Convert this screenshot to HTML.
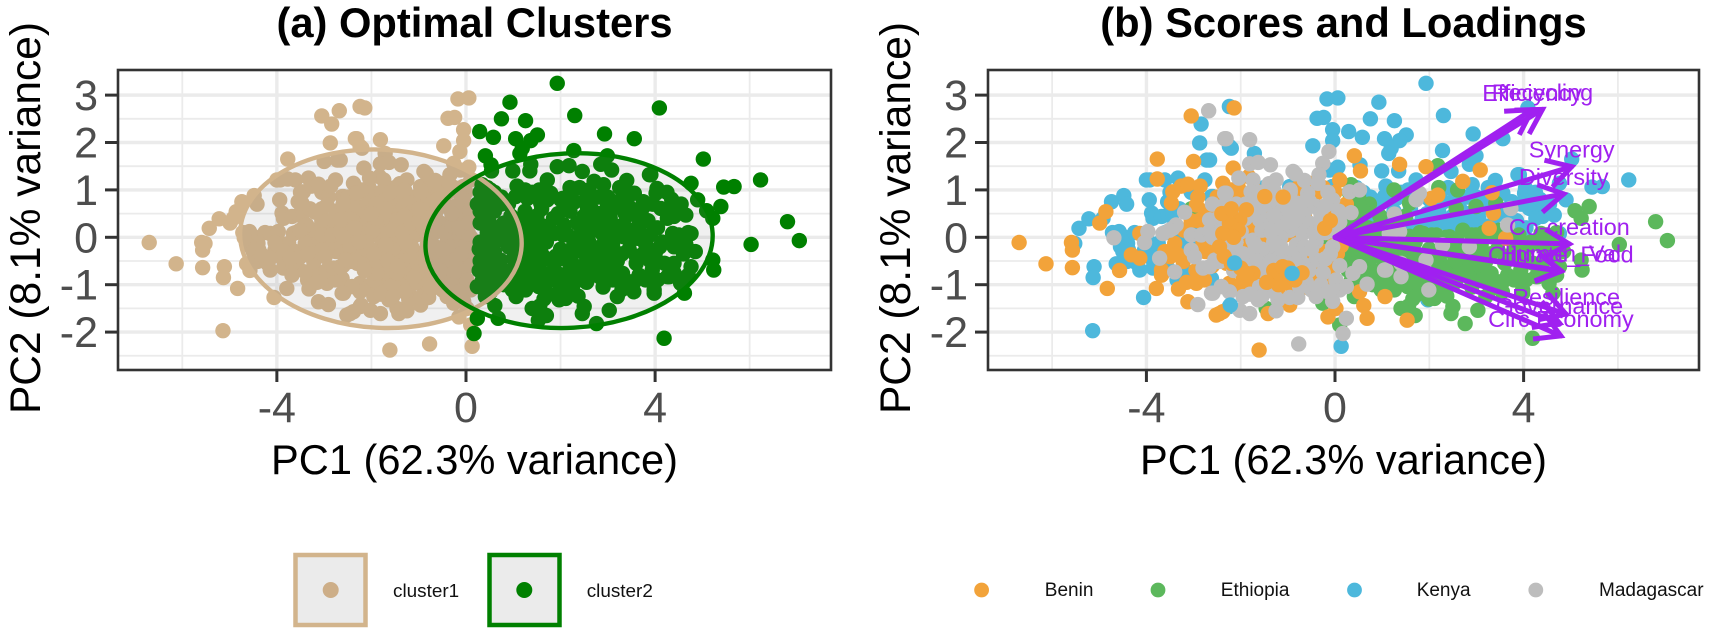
<!DOCTYPE html>
<html lang="en">
<head>
<meta charset="utf-8">
<title>PCA clusters, scores and loadings</title>
<style>
html,body{margin:0;padding:0;background:#fff;}
body{width:1713px;height:634px;overflow:hidden;}
svg{display:block;font-family:"Liberation Sans",Arial,sans-serif;}
</style>
</head>
<body>
<svg id="figure" xmlns="http://www.w3.org/2000/svg" width="1713" height="634" viewBox="0 0 1713 634">
  <rect x="0" y="0" width="1713" height="634" fill="#ffffff"/>
  <g id="panel-a"></g>
  <g id="panel-b"></g>

  <text x="474.5" y="37" text-anchor="middle" font-size="41.7" font-weight="700" fill="#000">(a) Optimal Clusters</text>
  <text x="1343.5" y="37" text-anchor="middle" font-size="41.7" font-weight="700" fill="#000">(b) Scores and Loadings</text>

  <text x="474.5" y="474" text-anchor="middle" font-size="41.6" fill="#000">PC1 (62.3% variance)</text>
  <text x="1343.5" y="474" text-anchor="middle" font-size="41.6" fill="#000">PC1 (62.3% variance)</text>
  <text transform="translate(40,218) rotate(-90)" text-anchor="middle" font-size="42.5" fill="#000">PC2 (8.1% variance)</text>
  <text transform="translate(910,218) rotate(-90)" text-anchor="middle" font-size="42.5" fill="#000">PC2 (8.1% variance)</text>

  <g>
    <g>
      <rect x="295.5" y="555" width="70" height="70" fill="#ebebeb" stroke="#D2B48C" stroke-width="4.5"/>
      <circle cx="330.7" cy="590" r="8" fill="#CDAE88"/>
      <text x="393" y="597" font-size="18.9" fill="#111">cluster1</text>
    </g>
    <g>
      <rect x="489.5" y="555" width="70" height="70" fill="#ebebeb" stroke="#008000" stroke-width="4.5"/>
      <circle cx="524.3" cy="590" r="8" fill="#008000"/>
      <text x="586.7" y="597" font-size="18.9" fill="#111">cluster2</text>
    </g>
  </g>

  <g>
    <g>
      <circle cx="981.6" cy="590" r="7.4" fill="#F2A33A"/>
      <text x="1044.8" y="596" font-size="19" fill="#111">Benin</text>
    </g>
    <g>
      <circle cx="1158" cy="590" r="7.4" fill="#5CB85C"/>
      <text x="1220.8" y="596" font-size="19" fill="#111">Ethiopia</text>
    </g>
    <g>
      <circle cx="1354.5" cy="590" r="7.4" fill="#4DB8DC"/>
      <text x="1416.7" y="596" font-size="19" fill="#111">Kenya</text>
    </g>
    <g>
      <circle cx="1535.8" cy="590" r="7.4" fill="#BDBDBD"/>
      <text x="1599" y="596" font-size="19" fill="#111">Madagascar</text>
    </g>
  </g>
</svg>

<script>
// ---------- chart data (PC1, PC2 scores) ----------
const xMajorTicks = [-4, 0, 4];
const xMinorTicks = [-6, -2, 2, 6];
const yMajorTicks = [-2, -1, 0, 1, 2, 3];
const yMinorTicks = [-2.5, -1.5, -0.5, 0.5, 1.5, 2.5];
const xTickLabels = ['-4', '0', '4'];
const yTickLabels = ['-2', '-1', '0', '1', '2', '3'];
const xDomain = [-7.36, 7.72];
const yDomain = [-2.80, 3.53];

const ethiopiaScores = [
[-3.05,.6],[-2.48,.68],[-2.69,-.2],[5.39,.65],[5.09,.56],[5.22,.4],[6.8,.33],[7.05,-.07],[6.03,-.15],[5.22,-.48],[5.24,-.69],[4.19,-2.13],[3.03,-1.54],[4.62,-1.18],[3.98,-1.11],[4.26,-.83],[4.76,-.62],[4.54,-.97],[3.66,-.8],[3.49,-.94],[3.31,-.76],
[.34,1.11],[.73,.7],[2.18,1.51],[-.12,-.06],[-.12,-.62],[.41,-.34],[.73,-.48],[.77,-.69],[.98,-1.11],[1.26,-1.11],[1.54,-1.04],[1.65,-.76],[1.4,-1.5],[1.56,-1.45],[1.7,-1.65],[2.11,-1.29],[2.37,-1.24],[2.5,-1.46],[2.46,-1.61],[2.76,-1.82],[.1,-1.85],[-.26,-1.39],[-1.46,-1.5],[-.4,-1.18],[.41,-1.25],
[2.25,-.55],[2.5,-.69],[2.71,-.69],[3.03,-.76],[3.27,-.76],[3.1,-.9],[3.38,-.97],[3.94,-.69],[4.3,-.83],[2.57,.61],[2.99,.65],[2.71,.15],[1.58,.72],[1.58,.02],[1.87,.08],[2.15,.05],[2.43,.01],[2.99,.05],[3.2,.09],[3.48,.15],[3.34,.01],[4.37,.08],
[3.98,-1.18],[3.41,.72],[1.3,-.76],[.97,-.69],[1.93,-.76],[2.14,-.48],[.93,-.83],[1.08,-.62],
[.5,-.1],[.6,-.3],[.9,-.2],[1.0,-.45],[1.15,-.6],[1.3,-.35],[1.5,-.2],[1.7,-.45],[1.85,-.7],[2.0,-.25],[2.1,-.85],[2.3,-.95],[2.45,-.3],[2.6,-.1],[2.8,-.45],[3.0,-.3],[3.2,-.5],[3.45,-.25],[3.6,-.55],[3.8,-.15],[4.0,-.35],[4.2,-.55],[4.4,-.2],[1.2,-.9],[1.75,-1.2],[.6,-.65],[.85,-.85],[1.05,-.15],[.45,.1],[.7,.2],[.95,.05],[1.25,.1],[1.55,.0],[1.8,.1],[2.05,.05],[2.35,.0],[2.9,.05],[3.15,.1],[3.45,.0],[3.9,.05],[4.15,-.1],[4.5,.05],[1.45,-.95],[.3,-.5],[.35,-.9],[.4,.5],[.6,.55],[.3,.3],[.95,.45],[1.5,.45],
[.3,-.1],[.38,-1.05],[.55,-1.0],[.3,.75],[.5,.85],[.32,-.72],[.5,.3],[2.55,-.95],[2.9,-1.05],[3.2,-1.25],[3.55,-1.15],[4.05,-.9],[4.85,-.3],[4.6,-.35],[4.7,.1],
[1.1,-.3],[1.25,-.15],[1.4,-.1],[1.6,-.35],[1.9,-.4],[2.25,-.3],[2.3,-.1],[2.55,-.5],[2.7,-.3],[2.9,-.25],[3.1,-.15],[3.3,-.35],[3.6,-.4],[3.75,-.35],[3.9,-.5],[4.1,-.2],[3.8,-.9],[3.55,-.95],[3.0,-.6],[2.85,-.85],[2.6,-.85],[2.35,-.75],[2.2,-.65],[1.95,-.95],[1.7,-.95],[1.5,-.6],[1.35,-.55],[1.0,-1.0],[.8,-1.0],[.7,-.95],[.45,-.55],[.28,-.25],[.28,-.7],[.5,-.75],[.7,-.05],[.9,.2],[1.1,.2],[1.35,.3],[1.7,-.1],[1.2,.25],[.3,.55],[.5,.7],[.3,.95],[2.0,-1.3],[1.65,-1.3],[2.25,-1.1],[3.3,-1.1],[4.4,-.55],[4.4,-.75],[4.7,-.8],[4.65,-.15],
[2.2,1.05],[2.6,1.0],[1.25,1.0]
];

const kenyaScores = [
[-5.43,.19],[-5.22,.39],[-5.52,-.13],[-5.11,-.62],[-5.13,-.85],[-5.14,-1.97],[-4.74,.75],[-4.48,.88],[-4.42,.70],[-4.92,.4],[-4.72,.1],[-4.58,.12],[-4.5,.02],[-4.47,-.09],[-4.4,-.13],[-4.55,-.2],[-4.38,-.27],[-4.5,-.3],[-4.64,-.56],[-4.41,-.51],[-4.14,-.69],[-4.06,-1.27],[-4.04,-.27],[-3.93,1.21],[-4.0,1.21],[-3.94,.79],[-3.89,.51],[-3.86,.40],[-3.68,.44],[-3.54,.47],[-3.44,.51],[-3.75,-.13],[-3.86,-.48],[-3.86,-.65],[-3.61,1.21],[-3.33,1.25],[-2.87,1.99],[-2.84,2.39],[-2.72,1.63],[-2.76,1.21],[-2.62,.86],[-3.12,-.73],[-3.16,-.16],[-2.71,-.87],[-2.24,-1.46],[-2.24,2.76],[-2.24,1.92],
[1.93,3.25],[-.17,2.92],[.06,2.94],[.93,2.85],[2.30,2.57],[-.38,2.51],[-.24,2.53],[.75,2.5],[1.26,2.46],[-.05,2.27],[.29,2.23],[-.05,2.04],[.58,2.11],[1.05,2.08],[1.51,2.16],[1.37,2.04],[2.93,2.18],[3.56,2.08],[-.47,1.93],[-2.2,1.88],[-1.71,1.77],[1.19,1.88],[1.14,1.77],[2.28,1.83],[2.99,1.72],[2.85,1.54],[.53,1.53],[.06,1.48],[-.12,1.42],[.99,1.4],[1.35,1.4],[2.46,1.39],[2.91,1.11],[-.06,1.07],[1.72,1.21],[1.08,1.08],[1.05,.86],[1.3,.82],[3.56,.93],[3.88,1.32],[4.02,.93],[4.12,.61],[4.4,.44],[2.53,.79],[2.57,.26],[2.43,.23],[2.71,.3],[2.64,.15],[2.07,.26],[3.2,.75],[3.63,.44],[3.7,.08],[4.09,2.73],[.52,.68],[-2.09,.94],[-.96,1.07],[.62,-.87],[1.97,-1.32],[.13,-2.3],[-2.59,.86],[-2.66,1.63],[-2.62,-.87],
[5.02,1.65],[3.91,1.32],[6.23,1.21],[5.67,1.07],[5.45,1.06],[4.9,.79],[4.04,1.03],[3.2,.72],[4.33,.51],[4.65,.47],[4.26,.40],[4.76,.08],[4.76,1.14],
[1.6,.6],[1.85,.4],[2.2,.55],[2.35,.3],[2.8,.5],[3.05,.4],[3.3,.25],[1.25,.55],[.8,.3],[2.95,.25],[1.45,.3],[3.85,.35],[4.05,.2],
[-3.3,.1],[-3.25,-.42],[-4.25,.1],[-3.95,-.1],[-3.5,.95],[-3.05,.95],[-2.85,.2],[-3.6,.1],[-2.9,-.12],[-2.3,.3],[-1.95,.85],[-1.5,1.05],
[1.1,.35],[1.3,.3],[1.6,.25],[1.75,.2],[1.95,.5],[2.1,.65],[2.3,.75],[2.5,.45],[2.65,.6],[2.8,.85],[3.0,.85],[3.1,.6],[3.4,.45],[3.5,.6],[3.75,.75],[3.95,.7],[2.0,.8],[1.4,.95],[1.55,1.0],[.75,.85],[.9,.7],[.6,.95],[.45,1.05],[2.4,1.05],[3.25,1.05],[3.4,1.2],[4.25,.95],[4.35,.8],[4.55,.7],
[-3.55,.75],[-3.85,-.3],[-3.3,.6],[-4.2,-.55],[-3.55,-.65],[-3.35,-.9]
];

const kenyaTopScores = [[-2.13,-.54],[-.91,-.76],[-2.22,-1.43]];

const beninScores = [
[-6.70,-.11],[-6.13,-.56],[-5.59,-.11],[-5.57,-.27],[-5.57,-.64],[-4.99,.30],[-4.86,.54],[-4.83,-1.08],[-4.57,-.70],[-4.32,-.37],[-4.14,-.44],[-4.14,.08],[-3.77,1.65],[-3.77,1.23],[-3.05,2.56],[-3.0,1.60],[-3.79,-1.08],[-3.32,-1.09],[-3.12,-1.36],[-3.68,-.69],[-3.68,-.80],[-3.61,-.30],[-3.5,-.41],[-3.4,-.13],[-3.22,-.51],[-3.47,.72],[-3.44,.96],[-3.26,1.08],[-3.12,1.12],[-2.91,.85],[-2.86,1.08],[-2.94,.68],[-2.94,-.97],[-2.77,-.90],[-2.52,-1.64],[-2.38,-1.57],[-2.38,1.14],[-2.52,.61],
[-2.14,2.73],[.41,1.72],[1.37,1.54],[1.93,1.49],[3.08,1.42],[.54,1.4],[.1,1.21],[-.77,1.06],[-2.16,1.46],[-1.83,1.28],[2.71,1.18],[3.33,.94],[.24,.7],[2.04,.82],[2.18,.89],[3.36,.51],[3.27,.19],[.13,-.18],[.02,-.55],[-.24,-.94],[.52,-1.15],[.61,-1.44],[.68,-1.71],[-.15,-1.68],[.02,-1.5],[1.06,-1.25],[1.53,-1.75],[-1.61,-2.38],[-2.45,-1.61],[-1.42,-1.61],[-.96,-1.43],[-1.21,-1.18],[-.72,-1.08],[-2.24,-.97],
[-1.81,.23],[-1.39,.37],[-1.25,-.2],[-2.24,-.2],[-2.55,-.2],[-.75,-.06],[-1.03,-.48],[-1.35,-.62],[-.54,1.14],[-.4,.93],[-2.5,.85],[-2.05,1.05],[-2.3,-.55],[-2.05,-.45],[-1.6,-.1],[-1.45,.05],[-1.05,.05],[-.6,-.3],[-.2,-.3],[-.65,.45],[-1.0,.45],[-1.65,-1.15],[-1.3,-.95],[-.8,-.7],[-.35,-.65],[0,-.95],[-.15,.7],[-.95,-1.0],[-2.6,-.6],[-2.75,-.3],[-2.7,.25],[3.62,-.02],
[-1.9,.05],[-1.85,-.25],[-1.65,.1],[-1.75,.45],[-1.55,.6],[-1.55,-.85],[-1.7,-.95],[-2.05,-1.05],[-1.85,-1.1],[-.45,-.85],[-.2,-.55],[-.05,-.7],[.05,-.35],[.1,.0],[-.05,.05],[-.25,.45],[-.1,.55],[.0,.95],[-.25,1.05],[-.7,1.0],[-1.35,.95],[-1.7,1.0],[-2.0,.85],[-2.2,1.0],[-2.75,.55],[-2.8,-.1],[-2.9,.35],[-3.05,.35],[-3.2,.15],[-3.35,-.35],[-2.95,-.7],[-3.15,-.95]
];

const beninTopScores = [
[-2.02,.37],[-1.88,.58],[-2.24,.3],[-2.38,.08],[-2.4,.5],[-2.2,.6],[-2.05,.15],[-2.15,.0],[-2.35,-.4],[-2.2,-.55],[-2.0,-.65],[-1.2,-1.0],[-1.05,-.95],[-1.3,-.7],[-1.0,-.65],[-1.18,-.76],[-1.11,-.62],[-.85,-.9],[-.7,-.75],[-1.45,-.95],[-1.74,-.76],[-1.95,-.9],[-1.88,-.76],[-1.49,.86],[-1.1,.85],[-.22,.19],[-.1,.35],[-2.45,-.2]
];

const madagascarScores = [
[-4.69,-.01],[-3.97,.12],[-4.04,-.11],[-3.65,.08],[-3.44,.19],[-3.37,.26],[-3.51,.15],[-3.19,.53],[-3.72,-.44],[-3.4,-.73],[-3.05,.05],[-3.05,-.27],[-2.98,-.41],[-2.84,.05],[-2.66,.12],[-2.8,-.65],[-2.66,-.62],[-2.68,2.67],[-2.34,2.08],[-2.34,.93],[-2.34,.68],[-2.62,-1.18],[-2.91,-1.42],[-2.41,-1.04],[-2.55,.37],[-2.41,.3],[-2.45,-.16],[-2.48,-.51],
[-2.31,2.08],[-1.81,2.06],[-.13,1.81],[-.26,1.56],[-1.81,1.55],[-1.63,1.58],[-1.37,1.53],[-.89,1.39],[-.84,1.34],[-.34,1.32],[-.36,1.14],[-2.04,1.25],[-1.74,1.21],[-1.78,.96],[-1.4,1.13],[-1.25,1.21],[-2.31,.93],[-2.09,.7],[-.58,.93],[-.54,.75],[-.4,.65],[-.05,.79],[-.19,.68],[-.96,.79],[-.86,.54],[-.81,.72],[-1.56,.65],[-1.42,.75],[-1.32,.65],[-1.21,.72],[-1.14,.54],[-1.6,.37],[-1.25,.23],[-1.46,.37],[.31,.96],[.52,1.0],[.34,.52],[.1,.32],[1.72,.79],[1.79,.93],[1.26,.49],[1.37,.12],[1.15,.08],[1.4,-.55],[1.93,-.48],[1.08,-.69],[1.99,-1.11],[2.85,-.2],[2.28,-.16],[3.66,.26],[3.73,.61],
[-1.74,-.06],[-1.99,.12],[-2.09,-.27],[-2.66,.37],[-.96,.15],[-.82,.23],[-.68,.08],[-.54,.3],[-.68,.51],[-.82,-.16],[-1,-.34],[-.4,-.09],[-.4,-.48],[-.75,-.41],[-1.03,-.76],[-1.35,-.3],[-1.49,-.41],[-1.78,-.48],[-1.6,-.62],[-1.46,-.76],[-1.88,-.51],[-1.74,-.34],[-2.45,-.51],[-2.55,-.48],[-.61,-.94],[-.5,-1.11],[.02,-.9],[.1,-1.11],[.24,-1.04],[.52,-.62],[.38,-.76],[1.05,-.69],[1.4,-.83],[.68,-.99],[.24,-1.71],[.17,-2.03],[-.77,-2.25],[-1.21,-1.32],[-.96,-1.27],[-.79,-1.27],[-2.24,-1.15],[-2.41,-1.04],[-2.59,-1.18],[-2.02,-1.54],[-1.81,-1.61],[-1.63,-1.32],[-1.6,-1.04],[-1.46,-1.08],
[-2.1,-.1],[-1.9,.4],[-1.15,.0],[-1.2,-.45],[-.2,.1],[-.05,-.2],[.05,.08],[-.25,-.75],[-.6,-.6],[-1.3,1.0],[-.95,1.0],[-.65,1.2],[-1.7,.8],[-2.6,.7],[-2.15,-.7],[-1.95,-1.25],[-1.25,-1.55],[-.3,-1.0],[.08,.55],
[-1.55,.15],[-1.35,.1],[-1.15,.3],[-1.0,.35],[-.8,.4],[-.6,.15],[-.45,.1],[-.3,.25],[-.15,.2],[-.3,.5],[-.6,.6],[-1.0,.6],[-1.3,.45],[-1.7,.6],[-1.9,.7],[-2.1,.5],[-.85,-.35],[-.65,-.2],[-.5,-.25],[-.2,-.45],[-.1,-.35],[-.55,-.7],[-.85,-.55],[-1.15,-.2],[-1.3,-.1],[-1.55,-.25],[-1.65,-.5],[-1.35,-.5],[-1.95,-.35],[-2.25,-.1],[-2.35,.2],[-2.6,0],[-1.7,-.15],[-1.45,-.6],[-1.1,-.85],[-.75,-1.05],[-1.3,-1.15],[-1.8,-1.2],[-1.55,-1.25],[-.4,-1.25],[-.15,-1.15],[-.05,-1.35],[.1,-.6],[.05,.3],[-.95,.95],[-.6,.8],[-.15,.95],[-1.6,.95],[-2.0,.5]
];

const cluster1Colour = '#D2B48C';
const cluster2Colour = '#008000';
const countryColours = {benin:'#F2A33A', ethiopia:'#5CB85C', kenya:'#4DB8DC', madagascar:'#BDBDBD'};
const clusterSplitPC1 = 0.17;

const ellipseCentrePC1 = [-1.8, 2.18];
const ellipseCentrePC2 = [-0.03, -0.07];
const ellipseSemiMajor = [2.98, 3.04];
const ellipseSemiMinor = [1.88, 1.84];
const ellipseTiltDeg = [3, -3];

const loadingNames = ['Efficiency','Recycling','Synergy','Diversity','Co-creation','Human_Val','Climate_Food','Resilience','Governance','Circ.Economy'];
const loadingPC1 = [4.18, 4.40, 5.02, 4.85, 4.97, 4.79, 4.79, 4.90, 4.76, 4.79];
const loadingPC2 = [2.69, 2.70, 1.49, 0.915, -0.14, -0.70, -0.72, -1.62, -1.81, -2.08];

// ---------- drawing ----------
const NS = 'http://www.w3.org/2000/svg';
const pointRadius = 7.7;
function node(tag, parent, attrs) {
  const el = document.createElementNS(NS, tag);
  for (const k in attrs) el.setAttribute(k, attrs[k]);
  parent.appendChild(el);
  return el;
}
function scale(domain, a, b) {
  return v => a + (v - domain[0]) / (domain[1] - domain[0]) * (b - a);
}

function drawFrame(group, left, right, top, bottom, prefix) {
  const X = scale(xDomain, left, right);
  const Y = scale(yDomain, bottom, top);
  const area = node('rect', group, {x: left, y: top, width: right - left, height: bottom - top, fill: '#ffffff'});
  
  
  xMinorTicks.forEach(v => {
    const el = node('line', group, {x1: X(v), x2: X(v), y1: top, y2: bottom, stroke: '#ebebeb', 'stroke-width': 1.8});
    
    
  });
  yMinorTicks.forEach(v => {
    const el = node('line', group, {x1: left, x2: right, y1: Y(v), y2: Y(v), stroke: '#ebebeb', 'stroke-width': 1.8});
    
    
  });
  xMajorTicks.forEach((v, i) => {
    const grid = node('line', group, {x1: X(v), x2: X(v), y1: top, y2: bottom, stroke: '#ebebeb', 'stroke-width': 3.4});
    
    
    const tick = node('line', group, {x1: X(v), x2: X(v), y1: bottom, y2: bottom + 12, stroke: '#333333', 'stroke-width': 3});
    
    
    const label = node('text', group, {x: X(v), y: bottom + 52, 'text-anchor': 'middle', 'font-size': 43, fill: '#4d4d4d'});
    label.textContent = xTickLabels[i];
    
    
  });
  yMajorTicks.forEach((v, i) => {
    const grid = node('line', group, {x1: left, x2: right, y1: Y(v), y2: Y(v), stroke: '#ebebeb', 'stroke-width': 3.4});
    
    
    const tick = node('line', group, {x1: left - 13, x2: left, y1: Y(v), y2: Y(v), stroke: '#333333', 'stroke-width': 3});
    
    
    const label = node('text', group, {x: left - 20, y: Y(v) + 15, 'text-anchor': 'end', 'font-size': 43, fill: '#4d4d4d'});
    label.textContent = yTickLabels[i];
    
    
  });
  return {X, Y};
}

function drawBorder(group, left, right, top, bottom) {
  const el = node('rect', group, {x: left, y: top, width: right - left, height: bottom - top, fill: 'none', stroke: '#333333', 'stroke-width': 2.6});
  
  
}

// Panel (a): clusters
(function () {
  const g = document.getElementById('panel-a');
  const {X, Y} = drawFrame(g, 118, 831, 70, 370, 'panel-a');
  const all = ethiopiaScores.concat(kenyaScores, kenyaTopScores, beninScores, beninTopScores, madagascarScores);
  all.filter(p => p[0] < clusterSplitPC1).forEach(p => {
    const el = node('circle', g, {cx: X(p[0]), cy: Y(p[1]), r: pointRadius, fill: cluster1Colour});
    
    
  });
  all.filter(p => p[0] >= clusterSplitPC1).forEach(p => {
    const el = node('circle', g, {cx: X(p[0]), cy: Y(p[1]), r: pointRadius, fill: cluster2Colour});
    
    
  });
  const unitX = X(1) - X(0), unitY = Y(0) - Y(1);
  ellipseCentrePC1.forEach((c, i) => {
    const cx = X(c), cy = Y(ellipseCentrePC2[i]);
    const el = node('ellipse', g, {
      cx: cx, cy: cy, rx: ellipseSemiMajor[i] * unitX, ry: ellipseSemiMinor[i] * unitY,
      transform: 'rotate(' + ellipseTiltDeg[i] + ' ' + cx + ' ' + cy + ')',
      fill: '#737373', 'fill-opacity': 0.11,
      stroke: i === 0 ? cluster1Colour : cluster2Colour, 'stroke-width': 4.4
    });
    
    
  });
  drawBorder(g, 118, 831, 70, 370);
})();

// Panel (b): scores and loadings
(function () {
  const g = document.getElementById('panel-b');
  const {X, Y} = drawFrame(g, 988, 1699, 70, 370, 'panel-b');
  const drawPoints = (rows, colour, label) => rows.forEach(p => {
    const el = node('circle', g, {cx: X(p[0]), cy: Y(p[1]), r: pointRadius, fill: colour});
    
    
  });
  drawPoints(kenyaScores, countryColours.kenya, 'kenya-point');
  drawPoints(ethiopiaScores, countryColours.ethiopia, 'ethiopia-point');
  drawPoints(beninScores, countryColours.benin, 'benin-point');
  drawPoints(madagascarScores, countryColours.madagascar, 'madagascar-point');
  drawPoints(beninTopScores, countryColours.benin, 'benin-point');
  drawPoints(kenyaTopScores, countryColours.kenya, 'kenya-point');

  const purple = '#A020F0';
  const headLength = 28;
  loadingNames.forEach((name, i) => {
    const x0 = X(0), y0 = Y(0), x1 = X(loadingPC1[i]), y1 = Y(loadingPC2[i]);
    const shaft = node('line', g, {x1: x0, y1: y0, x2: x1, y2: y1, stroke: purple, 'stroke-width': 5, 'stroke-linecap': 'round'});
    
    
    const angle = Math.atan2(y1 - y0, x1 - x0);
    const a1 = angle + Math.PI - Math.PI / 6, a2 = angle + Math.PI + Math.PI / 6;
    const pts = [
      [x1 + headLength * Math.cos(a1), y1 + headLength * Math.sin(a1)],
      [x1, y1],
      [x1 + headLength * Math.cos(a2), y1 + headLength * Math.sin(a2)]
    ].map(p => p.join(',')).join(' ');
    const head = node('polyline', g, {points: pts, fill: 'none', stroke: purple, 'stroke-width': 5, 'stroke-linejoin': 'miter'});
    
    
  });
  loadingNames.forEach((name, i) => {
    const label = node('text', g, {x: X(loadingPC1[i]), y: Y(loadingPC2[i]) - 9, 'text-anchor': 'middle', 'font-size': 23.4, fill: purple});
    label.textContent = name;
    
    
  });
  drawBorder(g, 988, 1699, 70, 370);
})();
</script>
</body>
</html>
